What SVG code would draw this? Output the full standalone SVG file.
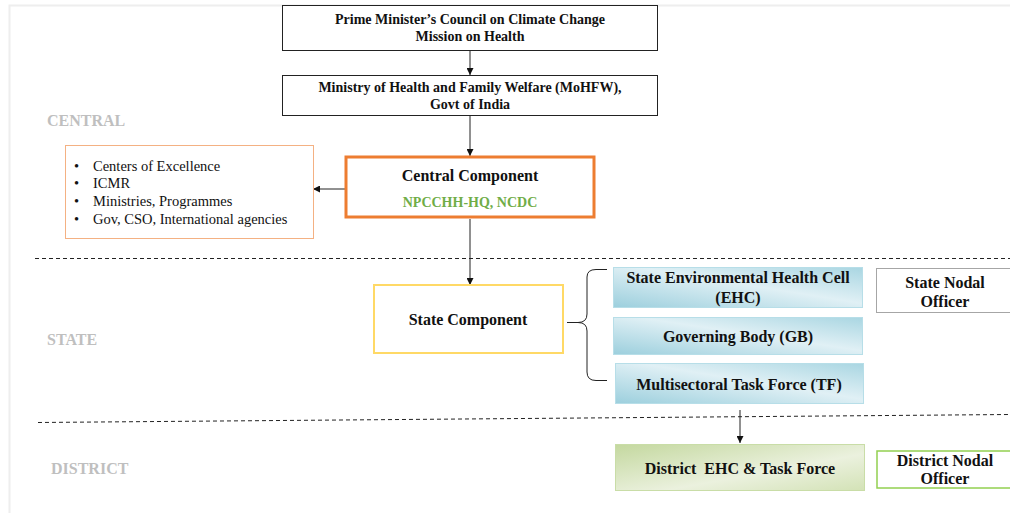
<svg xmlns="http://www.w3.org/2000/svg" width="1010" height="513" viewBox="0 0 1010 513">
<defs>
<style>
.t{font-family:"Liberation Serif","Times New Roman",serif;font-weight:bold;fill:#111;text-anchor:middle}
.lvl{font-family:"Liberation Serif","Times New Roman",serif;font-weight:bold;fill:#BFBFBF;font-size:16px}
.li{font-family:"Liberation Serif","Times New Roman",serif;fill:#111;font-size:14.5px}
.ln{stroke:#222;stroke-width:1;fill:none}
.dash{stroke:#222;stroke-width:1;stroke-dasharray:4 3;fill:none}
</style>
<marker id="ah" viewBox="0 0 10 10" refX="10" refY="5" markerWidth="7" markerHeight="7" orient="auto" markerUnits="userSpaceOnUse">
<path d="M0,0 L10,5 L0,10 Z" fill="#111"/>
</marker>
<linearGradient id="blue" x1="0" y1="1" x2="1" y2="0">
<stop offset="0" stop-color="#9CCFDD"/>
<stop offset="0.55" stop-color="#E0F0F5"/>
<stop offset="1" stop-color="#A9D6E2"/>
</linearGradient>
<linearGradient id="green" x1="0" y1="0" x2="1" y2="1">
<stop offset="0" stop-color="#C4D89F"/>
<stop offset="0.6" stop-color="#EBF1DE"/>
<stop offset="1" stop-color="#D3E2B6"/>
</linearGradient>
</defs>
<rect width="1010" height="513" fill="#fff"/>
<path d="M9.5,513 V5.5 H1010" stroke="#EEEEEE" stroke-width="2" fill="none"/>

<g id="levels">
<text class="lvl" x="47" y="126">CENTRAL</text>
<text class="lvl" x="47" y="345">STATE</text>
<text class="lvl" x="51" y="474">DISTRICT</text>
</g>

<g id="connectors">
<line class="dash" x1="35" y1="258.5" x2="1010" y2="258.5"/>
<line class="dash" x1="38" y1="422.5" x2="1010" y2="414.5"/>
<line class="ln" x1="470" y1="51" x2="470" y2="75" marker-end="url(#ah)"/>
<line class="ln" x1="470" y1="116" x2="470" y2="156" marker-end="url(#ah)"/>
<line class="ln" x1="345" y1="189" x2="313" y2="189" marker-end="url(#ah)"/>
<line class="ln" x1="470" y1="219" x2="470" y2="285" marker-end="url(#ah)"/>
<path class="ln" d="M567,322.5 H578 Q587,322.5 587,314 V277 Q587,269.5 596,269.5 H607"/>
<path class="ln" d="M578,322.5 Q587,322.5 587,331 V372 Q587,380.5 596,380.5 H607"/>
<line class="ln" x1="740" y1="410" x2="740" y2="443" marker-end="url(#ah)"/>
</g>

<g id="pm">
<rect x="282.5" y="5.5" width="375" height="45" fill="#fff" stroke="#222" stroke-width="1"/>
<text class="t" x="470" y="24" font-size="14">Prime Minister’s Council on Climate Change</text>
<text class="t" x="470" y="41" font-size="14">Mission on Health</text>
</g>

<g id="mohfw">
<rect x="282.5" y="75.5" width="375" height="40" fill="#fff" stroke="#222" stroke-width="1"/>
<text class="t" x="470" y="92" font-size="14">Ministry of Health and Family Welfare (MoHFW),</text>
<text class="t" x="470" y="109" font-size="14">Govt of India</text>
</g>

<g id="central">
<rect x="346" y="157" width="248" height="60" fill="#fff" stroke="#ED7D31" stroke-width="3"/>
<text class="t" x="470" y="181" font-size="16">Central Component</text>
<text class="t" x="470" y="207" font-size="14" style="fill:#70AD47">NPCCHH-HQ, NCDC</text>
</g>

<g id="partners">
<rect x="65.5" y="145.5" width="248" height="93" fill="#fff" stroke="#F4B183" stroke-width="1"/>
<text class="li" x="74" y="171">•</text><text class="li" x="93" y="171">Centers of Excellence</text>
<text class="li" x="74" y="188">•</text><text class="li" x="93" y="188">ICMR</text>
<text class="li" x="74" y="206">•</text><text class="li" x="93" y="206">Ministries, Programmes</text>
<text class="li" x="74" y="224">•</text><text class="li" x="93" y="224">Gov, CSO, International agencies</text>
</g>

<g id="state">
<rect x="374" y="285" width="189" height="68" fill="#fff" stroke="#FFD966" stroke-width="2"/>
<text class="t" x="468" y="325" font-size="16">State Component</text>
</g>

<g id="ehc">
<rect x="613.5" y="267.5" width="249" height="40" fill="url(#blue)" stroke="#B7DEE8" stroke-width="1"/>
<text class="t" x="738" y="283" font-size="16">State Environmental Health Cell</text>
<text class="t" x="738" y="303" font-size="16">(EHC)</text>
</g>

<g id="gb">
<rect x="613.5" y="317.5" width="249" height="37" fill="url(#blue)" stroke="#B7DEE8" stroke-width="1"/>
<text class="t" x="738" y="342" font-size="16">Governing Body (GB)</text>
</g>

<g id="tf">
<rect x="615.5" y="363.5" width="248" height="40" fill="url(#blue)" stroke="#B7DEE8" stroke-width="1"/>
<text class="t" x="739" y="390" font-size="16">Multisectoral Task Force (TF)</text>
</g>

<g id="stateNodal">
<rect x="876.5" y="268.5" width="140" height="44" fill="#fff" stroke="#A6A6A6" stroke-width="1"/>
<text class="t" x="945" y="288" font-size="16">State Nodal</text>
<text class="t" x="945" y="307" font-size="16">Officer</text>
</g>

<g id="district">
<rect x="615.5" y="444.5" width="249" height="46" fill="url(#green)" stroke="#C9DDA7" stroke-width="1"/>
<text class="t" x="740" y="474" font-size="16" xml:space="preserve">District  EHC &amp; Task Force</text>
</g>

<g id="districtNodal">
<rect x="877" y="451" width="140" height="37" fill="#fff" stroke="#92D050" stroke-width="1.5"/>
<text class="t" x="945" y="466" font-size="16">District Nodal</text>
<text class="t" x="945" y="484" font-size="16">Officer</text>
</g>
</svg>
